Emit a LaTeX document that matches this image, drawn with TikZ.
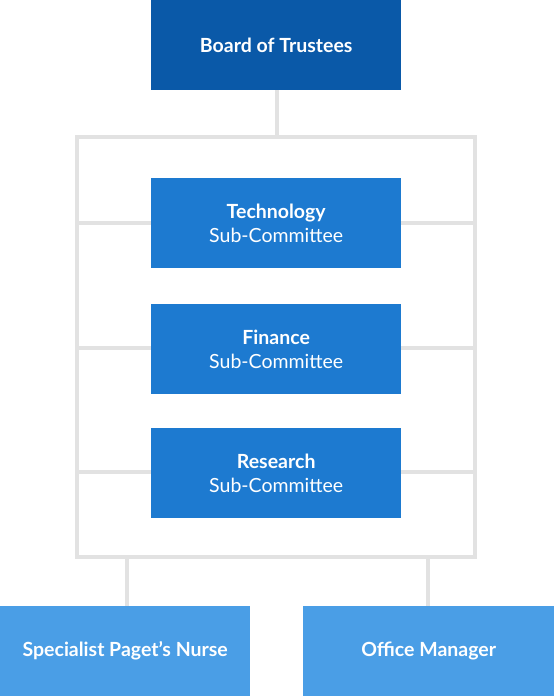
\documentclass[tikz,border=0pt]{standalone}
\usepackage{fontspec}
\setmainfont{Lato}
\definecolor{boardblue}{HTML}{0A59A8}
\definecolor{subblue}{HTML}{1D7AD0}
\definecolor{staffblue}{HTML}{4A9EE6}
\definecolor{linegray}{HTML}{E2E2E2}
\begin{document}
\begin{tikzpicture}[x=1pt,y=-1pt,
  box/.style={minimum width=250pt,minimum height=90pt,inner sep=0pt,anchor=north west,text=white,align=center,font=\fontsize{19.5}{24}\selectfont},
  conn/.style={draw=linegray,line width=4pt}]
\useasboundingbox (0,0) rectangle (554,696);
% frame and rungs
\draw[conn] (77,137) rectangle (475,557);
\coordinate (r1l) at (77,223); \coordinate (r1r) at (475,223);
\coordinate (r2l) at (77,348); \coordinate (r2r) at (475,348);
\coordinate (r3l) at (77,472); \coordinate (r3r) at (475,472);
\draw[conn] (r1l) -- (r1r);
\draw[conn] (r2l) -- (r2r);
\draw[conn] (r3l) -- (r3r);
\coordinate (ftop) at (277,137);
\coordinate (fbl) at (127,557);
\coordinate (fbr) at (428,557);
% nodes
\node[box,fill=boardblue] (board) at (151,0) {\textbf{Board of Trustees}};
\node[box,fill=subblue] (tech) at (151,178) {\textbf{Technology}\\Sub-Committee};
\node[box,fill=subblue] (fin) at (151,304) {\textbf{Finance}\\Sub-Committee};
\node[box,fill=subblue] (res) at (151,428) {\textbf{Research}\\Sub-Committee};
\node[box,fill=staffblue] (nurse) at (0,606) {\textbf{Specialist Paget’s Nurse}};
\node[box,fill=staffblue,minimum width=251pt] (office) at (303,606) {\textbf{Office Manager}};
% connectors
\draw[conn] (board.south -| ftop) -- (ftop);
\draw[conn] (fbl) -- (fbl |- nurse.north);
\draw[conn] (fbr) -- (fbr |- office.north);
\end{tikzpicture}
\end{document}
